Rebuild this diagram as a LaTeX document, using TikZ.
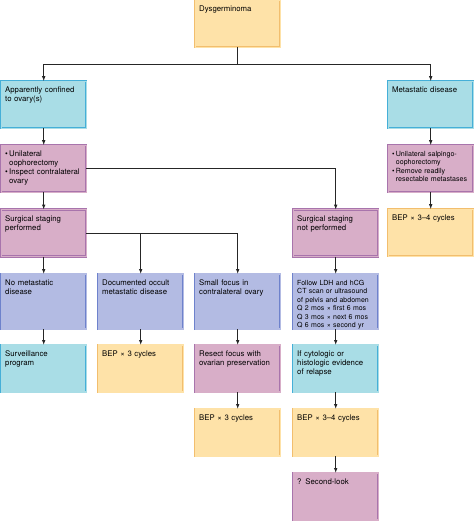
\documentclass[tikz,border=0pt]{standalone}
\usepackage{fontspec}
\setmainfont{TeX Gyre Heros}
\usepackage{tikz}
\usetikzlibrary{positioning}
\usetikzlibrary{arrows.meta,arrows}

\definecolor{yelfill}{HTML}{FEE2A8}
\definecolor{yelline}{HTML}{F2BE6E}
\definecolor{cyafill}{HTML}{A9DDE6}
\definecolor{cyaline}{HTML}{45AFD8}
\definecolor{pinfill}{HTML}{D8AEC8}
\definecolor{pinline}{HTML}{A874AC}
\definecolor{blufill}{HTML}{B3BBE3}
\definecolor{bluline}{HTML}{6E82CC}

\begin{document}
\begin{tikzpicture}[x=1pt,y=1pt,
		box/.style={line width=.7pt, double distance=1.1pt, anchor=north west, outer sep=0pt,
			text width=77pt, align=left, inner xsep=4pt, inner ysep=3pt,
			text height=8.5pt, text depth=32.5pt, font=\fontsize{7.8}{9}\selectfont},
		tallbox/.style={box, text depth=40.5pt},
		yel/.style={draw=yelline, double=yelfill, fill=yelfill},
		cya/.style={draw=cyaline, double=cyafill, fill=cyafill},
		pin/.style={draw=pinline, double=pinfill, fill=pinfill},
		blu/.style={draw=bluline, double=blufill, fill=blufill},
		arr/.style={line width=.8pt, black!85, -{Latex[length=5pt,width=3.6pt]}},
		lin/.style={line width=.8pt, black!85}]
				\useasboundingbox[fill=white] (0,0) rectangle (474,-521);

				\node[yel,box] (dys) at (195.2,-.2) {Dysgerminoma};
				\coordinate[below=17pt of dys] (split);
				\node[cya,box,below=34pt of dys, xshift=-194pt] (conf) {Apparently confined\\to ovary(s)};
				\node[cya,box,below=34pt of dys, xshift=193pt] (meta) {Metastatic disease};
				\node[pin,box,below=17pt of conf] (ooph) {\textbullet\,Unilateral\\\hphantom{\textbullet\,}oophorectomy\\\textbullet\,Inspect contralateral\\\hphantom{\textbullet\,}ovary};
				\node[pin,box,below=17pt of meta, font=\fontsize{7.1}{8.2}\selectfont] (salp) {\textbullet\,Unilateral salpingo-\\\hphantom{\textbullet\,}oophorectomy\\\textbullet\,Remove readily\\\hphantom{\textbullet\,}resectable metastases};
				\node[yel,box,below=17pt of salp] (bepmeta) {BEP × 3–4 cycles};
				\node[pin,box,below=17.4pt of ooph] (perf) {Surgical staging\\performed};
				\node[pin,box,below=17.4pt of ooph, xshift=292pt] (notperf) {Surgical staging\\not performed};

				\node[blu,tallbox,below=17.4pt of perf] (nomet) {No metastatic\\disease};
				\node[blu,tallbox,right=12pt of nomet] (occult) {Documented occult\\metastatic disease};
				\node[blu,tallbox,right=12pt of occult] (small) {Small focus in\\contralateral ovary};
				\node[blu,tallbox,right=13pt of small, font=\fontsize{7}{8.4}\selectfont] (follow) {Follow LDH and hCG\\CT scan or ultrasound\\of pelvis and abdomen\\Q 2 mos × first 6 mos\\Q 3 mos × next 6 mos\\Q 6 mos × second yr};

				\node[cya,box,below=16pt of nomet] (surv) {Surveillance\\program};
				\node[yel,box,below=16pt of occult] (bepocc) {BEP × 3 cycles};
				\node[pin,box,below=16pt of small] (resect) {Resect focus with\\ovarian preservation};
				\node[cya,box,below=16pt of follow] (relapse) {If cytologic or\\histologic evidence\\of relapse};
				\node[yel,box,below=17pt of resect] (bepres) {BEP × 3 cycles};
				\node[yel,box,below=17pt of relapse] (beprel) {BEP × 3–4 cycles};
				\node[pin,box,below=17pt of beprel] (second) {? Second-look};

				\draw[lin] (dys) to (split);
				\draw[arr] (split) -| (conf);
				\draw[arr] (split) -| (meta);
				\draw[arr] (conf) to (ooph);
				\draw[arr] (meta) to (salp);
				\draw[arr] (salp) to (bepmeta);
				\draw[arr] (ooph) to (perf);
				\draw[arr] (ooph) -| (notperf);
				\draw[arr] (perf) to (nomet);
				\draw[arr] (perf) -| (occult);
				\draw[arr] (perf) -| (small);
				\draw[arr] (notperf) to (follow);
				\draw[arr] (nomet) to (surv);
				\draw[arr] (occult) to (bepocc);
				\draw[arr] (small) to (resect);
				\draw[arr] (follow) to (relapse);
				\draw[arr] (resect) to (bepres);
				\draw[arr] (relapse) to (beprel);
				\draw[arr] (beprel) to (second);
			\end{tikzpicture}
\end{document}
